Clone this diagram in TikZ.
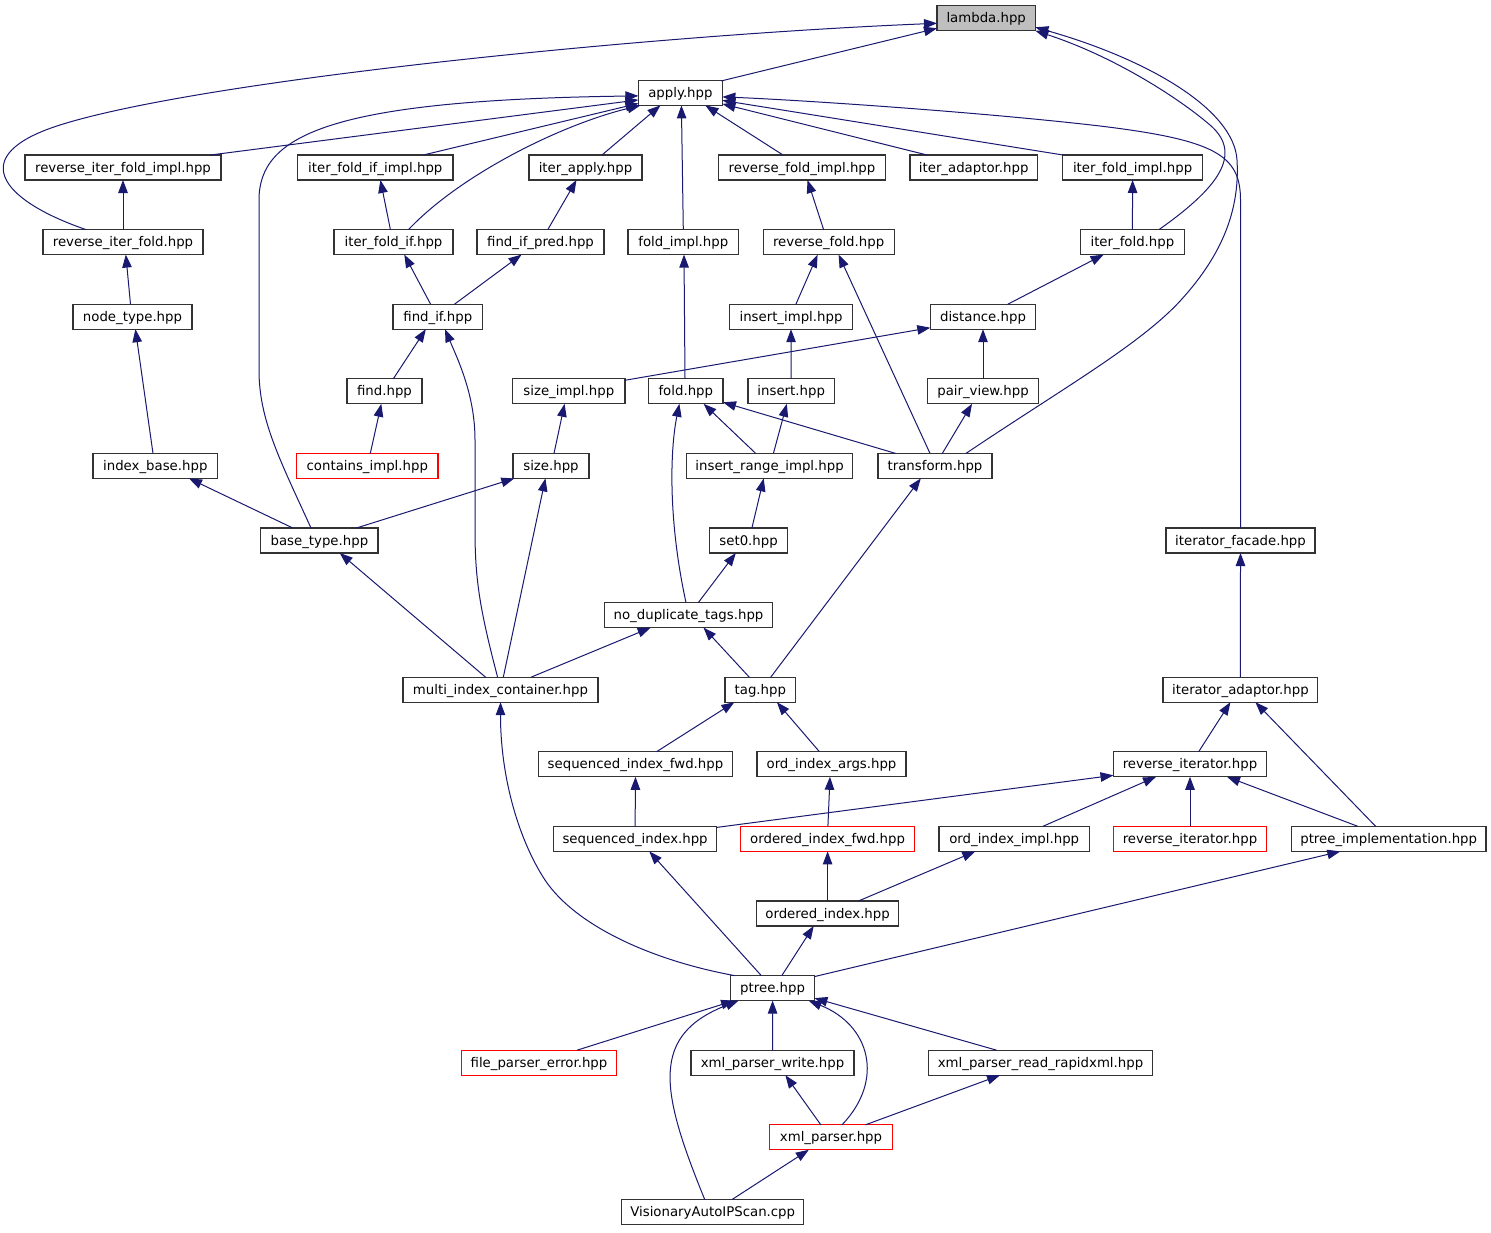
\documentclass[tikz,border=0pt]{standalone}
\usepackage{fontspec}
\setmainfont{DejaVu Sans}
\usetikzlibrary{arrows.meta,calc}
\definecolor{navyc}{HTML}{191970}
\definecolor{lgray}{HTML}{BFBFBF}
\tikzset{
  box/.style={draw=black!80, line width=1.2pt, fill=white, minimum height=25pt,
    inner sep=0pt, outer sep=0pt, font=\fontsize{13.3}{15}\selectfont,
    text height=11pt, text depth=2pt, text=black},
  redbox/.style={box, draw=red},
  graybox/.style={box, fill=lgray},
  edge/.style={draw=navyc, line width=1pt, -{Triangle[length=13pt,width=9.5pt]}}
}
\begin{document}
\begin{tikzpicture}[x=1pt,y=-1pt]
\useasboundingbox (0,0) rectangle (1491,1232);
\fill[white] (0,0) rectangle (1491,1232);
% nodes
\node[graybox, minimum width=98.5pt] (lambda) at (986.2,18.3) {lambda.hpp};
\node[box, minimum width=84pt] (apply) at (680.4,92.9) {apply.hpp};
\node[box, minimum width=196pt] (rifi) at (123,167.5) {reverse\_iter\_fold\_impl.hpp};
\node[box, minimum width=155.5pt] (ifii) at (375.3,167.5) {iter\_fold\_if\_impl.hpp};
\node[box, minimum width=113pt] (iapply) at (585.5,167.5) {iter\_apply.hpp};
\node[box, minimum width=166.5pt] (rfi) at (802,167.5) {reverse\_fold\_impl.hpp};
\node[box, minimum width=127.5pt] (iadaptor) at (973.7,167.5) {iter\_adaptor.hpp};
\node[box, minimum width=139.7pt] (ifi) at (1132.6,167.5) {iter\_fold\_impl.hpp};
\node[box, minimum width=160pt] (rif) at (123,242.1) {reverse\_iter\_fold.hpp};
\node[box, minimum width=119pt] (ifif) at (393.5,242.1) {iter\_fold\_if.hpp};
\node[box, minimum width=127pt] (fip) at (540.5,242.1) {find\_if\_pred.hpp};
\node[box, minimum width=110.5pt] (foldimpl) at (683.3,242.1) {fold\_impl.hpp};
\node[box, minimum width=131pt] (rfold) at (828.6,242.1) {reverse\_fold.hpp};
\node[box, minimum width=104pt] (ifold) at (1132.4,242.1) {iter\_fold.hpp};
\node[box, minimum width=119pt] (nodetype) at (132.5,316.7) {node\_type.hpp};
\node[box, minimum width=89.6pt] (findif) at (437.8,316.7) {find\_if.hpp};
\node[box, minimum width=123pt] (insimpl) at (791,316.7) {insert\_impl.hpp};
\node[box, minimum width=105.5pt] (distance) at (983,316.7) {distance.hpp};
\node[box, minimum width=75pt] (find) at (384.5,391.3) {find.hpp};
\node[box, minimum width=112.5pt] (sizeimpl) at (568.8,391.3) {size\_impl.hpp};
\node[box, minimum width=74.4pt] (fold) at (685.8,391.3) {fold.hpp};
\node[box, minimum width=86.5pt] (insert) at (791.2,391.3) {insert.hpp};
\node[box, minimum width=111.5pt] (pairview) at (983,391.3) {pair\_view.hpp};
\node[box, minimum width=124.6pt] (indexbase) at (155.3,465.9) {index\_base.hpp};
\node[redbox, minimum width=141.4pt] (contains) at (367.3,465.9) {contains\_impl.hpp};
\node[box, minimum width=76pt] (size) at (551,465.9) {size.hpp};
\node[box, minimum width=166.2pt] (irimpl) at (769.6,465.9) {insert\_range\_impl.hpp};
\node[box, minimum width=114pt] (transform) at (935,465.9) {transform.hpp};
\node[box, minimum width=117.3pt] (basetype) at (319.4,540.5) {base\_type.hpp};
\node[box, minimum width=78.3pt] (set0) at (748.6,540.5) {set0.hpp};
\node[box, minimum width=149pt] (ifacade) at (1240.5,540.5) {iterator\_facade.hpp};
\node[box, minimum width=167.7pt] (nodup) at (688.5,615.1) {no\_duplicate\_tags.hpp};
\node[box, minimum width=195pt] (mic) at (500.5,689.7) {multi\_index\_container.hpp};
\node[box, minimum width=70.5pt] (tag) at (760.3,689.7) {tag.hpp};
\node[box, minimum width=154.7pt] (iadaptor2) at (1240.4,689.7) {iterator\_adaptor.hpp};
\node[box, minimum width=193.5pt] (sifwd) at (635.5,764.3) {sequenced\_index\_fwd.hpp};
\node[box, minimum width=149pt] (oargs) at (831.5,764.3) {ord\_index\_args.hpp};
\node[box, minimum width=153pt] (reviter) at (1190,764.3) {reverse\_iterator.hpp};
\node[box, minimum width=163pt] (sindex) at (635.1,838.9) {sequenced\_index.hpp};
\node[redbox, minimum width=173.7pt] (oifwd) at (827.6,838.9) {ordered\_index\_fwd.hpp};
\node[box, minimum width=150.4pt] (oiimpl) at (1014.2,838.9) {ord\_index\_impl.hpp};
\node[redbox, minimum width=153pt] (reviter2) at (1190,838.9) {reverse\_iterator.hpp};
\node[box, minimum width=194.6pt] (ptreeimpl) at (1388.7,838.9) {ptree\_implementation.hpp};
\node[box, minimum width=142.5pt] (oindex) at (827.6,913.5) {ordered\_index.hpp};
\node[box, minimum width=83.6pt] (ptree) at (772.6,988.1) {ptree.hpp};
\node[redbox, minimum width=155pt] (fpe) at (539,1062.7) {file\_parser\_error.hpp};
\node[box, minimum width=163pt] (xpw) at (772.5,1062.7) {xml\_parser\_write.hpp};
\node[box, minimum width=224pt] (xprr) at (1040.5,1062.7) {xml\_parser\_read\_rapidxml.hpp};
\node[redbox, minimum width=122.6pt] (xp) at (831,1137.3) {xml\_parser.hpp};
\node[box, minimum width=182pt] (vis) at (712.7,1211.9) {VisionaryAutoIPScan.cpp};
% edges to lambda
\draw[edge] ($(apply)+(41,-12)$) -- ($(lambda)+(-49.2,10)$);
\draw[edge] ($(rif)+(-37,-12.5)$) .. controls (0,200) and (-35,155) .. (60,125) .. controls (202,80) and (650,35) .. ($(lambda)+(-49.2,5)$);
\draw[edge] ($(ifold)+(26.6,-12.5)$) .. controls (1215,190) and (1245,155) .. (1210,125) .. controls (1175,95) and (1110,55) .. ($(lambda)+(49.2,12.5)$);
\draw[edge] ($(transform)+(31,-12.5)$) .. controls (1060,390) and (1140,345) .. (1181,300) .. controls (1222,255) and (1240,210) .. (1237,160) .. controls (1234,110) and (1150,60) .. ($(lambda)+(49.2,9)$);
% edges to apply
\draw[edge] ($(rifi)+(87.5,-12.5)$) -- ($(apply)+(-42,7)$);
\draw[edge] ($(ifii)+(48,-12.5)$) -- ($(apply)+(-42,10.5)$);
\draw[edge] ($(ifif)+(15,-12.5)$) .. controls (460,175) and (560,125) .. ($(apply)+(-40,12.5)$);
\draw[edge] ($(iapply)+(16.5,-12.5)$) -- ($(apply)+(-20,12.5)$);
\draw[edge] ($(foldimpl)+(0,-12.5)$) -- ($(apply)+(1,12.5)$);
\draw[edge] ($(rfi)+(-19,-12.5)$) -- ($(apply)+(25,12.5)$);
\draw[edge] ($(iadaptor)+(-46.7,-12.5)$) -- ($(apply)+(42,11)$);
\draw[edge] ($(ifi)+(-69.6,-12.5)$) -- ($(apply)+(42,7.5)$);
\draw[edge] ($(ifacade)+(0,-12.5)$) -- (1240.5,200) .. controls (1240.5,155) and (1215,140) .. (1100,126) .. controls (980,112) and (800,100) .. ($(apply)+(42,4)$);
\draw[edge] ($(basetype)+(-8.4,-12.5)$) .. controls (280,460) and (259,420) .. (259,370) -- (259,200) .. controls (259,135) and (330,100) .. ($(apply)+(-42,3)$);
% other edges
\draw[edge] ($(rif)+(0,-12.5)$) -- ($(rifi)+(0,12.5)$);
\draw[edge] ($(nodetype)+(-2,-12.5)$) -- ($(rif)+(2.8,12.5)$);
\draw[edge] ($(indexbase)+(-2.3,-12.5)$) -- ($(nodetype)+(2.9,12.5)$);
\draw[edge] ($(basetype)+(-26.6,-12.5)$) -- ($(indexbase)+(33.7,12.5)$);
\draw[edge] ($(ifif)+(-3.1,-12.5)$) -- ($(ifii)+(5.1,12.5)$);
\draw[edge] ($(findif)+(-7.2,-12.5)$) -- ($(ifif)+(10.8,12.5)$);
\draw[edge] ($(findif)+(16.7,-12.5)$) -- ($(fip)+(-19,12.5)$);
\draw[edge] ($(fip)+(7.3,-12.5)$) -- ($(iapply)+(-9,12.5)$);
\draw[edge] ($(find)+(8.8,-12.5)$) -- ($(findif)+(-12,12.5)$);
\draw[edge] ($(contains)+(3,-12.5)$) -- ($(find)+(-3.2,12.5)$);
\draw[edge] ($(mic)+(-2.9,-12.5)$) .. controls (480,610) and (475,580) .. (475,530) -- (475,440) .. controls (475,395) and (458,360) .. ($(findif)+(7.2,12.5)$);
\draw[edge] ($(mic)+(-14.9,-12.5)$) -- ($(basetype)+(20.3,12.5)$);
\draw[edge] ($(mic)+(2.8,-12.5)$) -- ($(size)+(-5.6,12.5)$);
\draw[edge] ($(basetype)+(37,-12.5)$) -- ($(size)+(-36.7,12.5)$);
\draw[edge] ($(size)+(3,-12.5)$) -- ($(sizeimpl)+(-4.2,12.5)$);
\draw[edge] ($(sizeimpl)+(56,-11)$) -- ($(distance)+(-52.7,11)$);
\draw[edge] ($(fold)+(-0.8,-12.5)$) -- ($(foldimpl)+(0.7,12.5)$);
\draw[edge] ($(irimpl)+(-13.9,-12.5)$) -- ($(fold)+(17.8,12.5)$);
\draw[edge] ($(transform)+(-39.4,-12.5)$) -- ($(fold)+(37.2,11)$);
\draw[edge] ($(nodup)+(-2.5,-12.5)$) .. controls (668,520) and (670,450) .. ($(fold)+(-6.4,12.5)$);
\draw[edge] ($(insimpl)+(4.9,-12.5)$) -- ($(rfold)+(-11,12.5)$);
\draw[edge] ($(insert)+(0,-12.5)$) -- ($(insimpl)+(0,12.5)$);
\draw[edge] ($(irimpl)+(3.8,-12.5)$) -- ($(insert)+(-4.4,12.5)$);
\draw[edge] ($(transform)+(-5,-12.5)$) -- ($(rfold)+(10,12.5)$);
\draw[edge] ($(pairview)+(0,-12.5)$) -- ($(distance)+(0,12.5)$);
\draw[edge] ($(transform)+(7.3,-12.5)$) -- ($(pairview)+(-11,12.5)$);
\draw[edge] ($(distance)+(24.8,-12.5)$) -- ($(ifold)+(-28.8,12.5)$);
\draw[edge] ($(ifold)+(0,-12.5)$) -- ($(ifi)+(0,12.5)$);
\draw[edge] ($(rfold)+(-5,-12.5)$) -- ($(rfi)+(5.5,12.5)$);
\draw[edge] ($(set0)+(3.3,-12.5)$) -- ($(irimpl)+(-5.9,12.5)$);
\draw[edge] ($(nodup)+(9.8,-12.5)$) -- ($(set0)+(-12.8,12.5)$);
\draw[edge] ($(tag)+(-11,-12.5)$) -- ($(nodup)+(15,12.5)$);
\draw[edge] ($(tag)+(10.4,-12.5)$) -- ($(transform)+(-14.2,12.5)$);
\draw[edge] ($(mic)+(30.5,-12.5)$) -- ($(nodup)+(-37.8,12.5)$);
\draw[edge] ($(iadaptor2)+(0,-12.5)$) -- ($(ifacade)+(0,12.5)$);
\draw[edge] ($(ptree)+(-38,-12.5)$) .. controls (650,960) and (575,925) .. (545,880) .. controls (520,842) and (500.5,780) .. ($(mic)+(0,12.5)$);
\draw[edge] ($(sifwd)+(20.9,-12.5)$) -- ($(tag)+(-25.9,12.5)$);
\draw[edge] ($(oargs)+(-12,-12.5)$) -- ($(tag)+(16.6,12.5)$);
\draw[edge] ($(sindex)+(0,-12.5)$) -- ($(sifwd)+(0,12.5)$);
\draw[edge] ($(oifwd)+(0.3,-12.5)$) -- ($(oargs)+(-1.5,12.5)$);
\draw[edge] ($(oindex)+(0,-12.5)$) -- ($(oifwd)+(0,12.5)$);
\draw[edge] ($(oindex)+(30.8,-12.5)$) -- ($(oiimpl)+(-38.9,12.5)$);
\draw[edge] ($(ptree)+(-11.3,-12.5)$) -- ($(sindex)+(14.2,12.5)$);
\draw[edge] ($(ptree)+(9.2,-12.5)$) -- ($(oindex)+(-13.9,12.5)$);
\draw[edge] ($(ptree)+(41.8,-11.5)$) -- ($(ptreeimpl)+(-48.4,12.5)$);
\draw[edge] ($(sindex)+(81.5,-11.5)$) -- ($(reviter)+(-76.5,11)$);
\draw[edge] ($(oiimpl)+(28.5,-12.5)$) -- ($(reviter)+(-34,12.5)$);
\draw[edge] ($(reviter2)+(0,-12.5)$) -- ($(reviter)+(0,12.5)$);
\draw[edge] ($(ptreeimpl)+(-30.7,-12.5)$) -- ($(reviter)+(37,12.5)$);
\draw[edge] ($(reviter)+(8.6,-12.5)$) -- ($(iadaptor2)+(-10,12.5)$);
\draw[edge] ($(ptreeimpl)+(-13,-12.5)$) -- ($(iadaptor2)+(15,12.5)$);
\draw[edge] ($(fpe)+(38,-12.5)$) -- ($(ptree)+(-38.5,12.5)$);
\draw[edge] ($(vis)+(-8,-12.5)$) .. controls (660,1090) and (650,1035) .. ($(ptree)+(-34,12.5)$);
\draw[edge] ($(xpw)+(0,-12.5)$) -- ($(ptree)+(0,12.5)$);
\draw[edge] ($(xp)+(11,-12.5)$) .. controls (885,1080) and (870,1025) .. ($(ptree)+(36,12.5)$);
\draw[edge] ($(xprr)+(-43.9,-12.5)$) -- ($(ptree)+(41.8,10)$);
\draw[edge] ($(xp)+(-10.2,-12.5)$) -- ($(xpw)+(12.9,12.5)$);
\draw[edge] ($(xp)+(34.5,-12.5)$) -- ($(xprr)+(-40.5,12.5)$);
\draw[edge] ($(vis)+(19.5,-12.5)$) -- ($(xp)+(-22.2,12.5)$);
\end{tikzpicture}
\end{document}
